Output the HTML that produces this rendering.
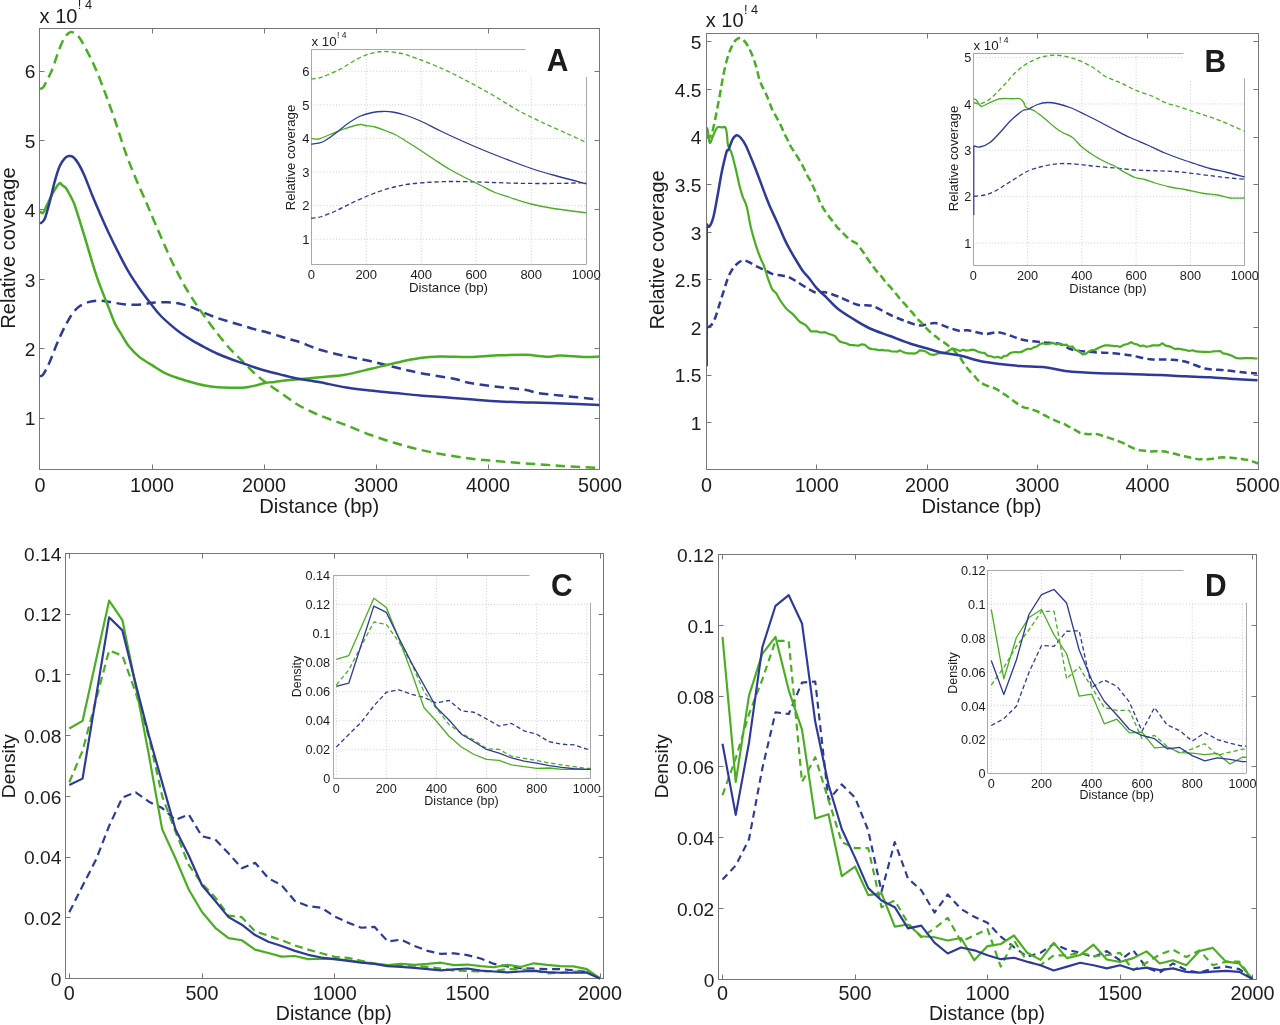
<!DOCTYPE html>
<html lang="en">
<head>
<meta charset="utf-8">
<title>Relative coverage and density versus distance (bp) - panels A, B, C, D</title>
<style>
html,body{margin:0;padding:0;background:#ffffff;}
body{width:1280px;height:1025px;overflow:hidden;font-family:"Liberation Sans",Arial,Helvetica,sans-serif;}
svg{display:block;}
</style>
</head>
<body>
<svg width="1280" height="1025" viewBox="0 0 1280 1025" font-family="'Liberation Sans', Arial, Helvetica, sans-serif" fill="#1c1c1c">
<rect width="1280" height="1025" fill="#ffffff"/>
<g id="plotA">
<rect x="39.5" y="28.5" width="560" height="441" fill="none" stroke="#777777" stroke-width="1"/>
<line x1="152.5" y1="469.5" x2="152.5" y2="464.5" stroke="#777777" stroke-width="1"/>
<line x1="152.5" y1="28.5" x2="152.5" y2="33.5" stroke="#777777" stroke-width="1"/>
<line x1="264.5" y1="469.5" x2="264.5" y2="464.5" stroke="#777777" stroke-width="1"/>
<line x1="264.5" y1="28.5" x2="264.5" y2="33.5" stroke="#777777" stroke-width="1"/>
<line x1="376.5" y1="469.5" x2="376.5" y2="464.5" stroke="#777777" stroke-width="1"/>
<line x1="376.5" y1="28.5" x2="376.5" y2="33.5" stroke="#777777" stroke-width="1"/>
<line x1="488.5" y1="469.5" x2="488.5" y2="464.5" stroke="#777777" stroke-width="1"/>
<line x1="488.5" y1="28.5" x2="488.5" y2="33.5" stroke="#777777" stroke-width="1"/>
<line x1="39.5" y1="418.5" x2="44.5" y2="418.5" stroke="#777777" stroke-width="1"/>
<line x1="599.5" y1="418.5" x2="594.5" y2="418.5" stroke="#777777" stroke-width="1"/>
<line x1="39.5" y1="348.5" x2="44.5" y2="348.5" stroke="#777777" stroke-width="1"/>
<line x1="599.5" y1="348.5" x2="594.5" y2="348.5" stroke="#777777" stroke-width="1"/>
<line x1="39.5" y1="279.5" x2="44.5" y2="279.5" stroke="#777777" stroke-width="1"/>
<line x1="599.5" y1="279.5" x2="594.5" y2="279.5" stroke="#777777" stroke-width="1"/>
<line x1="39.5" y1="209.5" x2="44.5" y2="209.5" stroke="#777777" stroke-width="1"/>
<line x1="599.5" y1="209.5" x2="594.5" y2="209.5" stroke="#777777" stroke-width="1"/>
<line x1="39.5" y1="140.5" x2="44.5" y2="140.5" stroke="#777777" stroke-width="1"/>
<line x1="599.5" y1="140.5" x2="594.5" y2="140.5" stroke="#777777" stroke-width="1"/>
<line x1="39.5" y1="71.5" x2="44.5" y2="71.5" stroke="#777777" stroke-width="1"/>
<line x1="599.5" y1="71.5" x2="594.5" y2="71.5" stroke="#777777" stroke-width="1"/>
<text x="40" y="492.4" font-size="19.8" text-anchor="middle">0</text>
<text x="152" y="492.4" font-size="19.8" text-anchor="middle">1000</text>
<text x="264" y="492.4" font-size="19.8" text-anchor="middle">2000</text>
<text x="376" y="492.4" font-size="19.8" text-anchor="middle">3000</text>
<text x="488" y="492.4" font-size="19.8" text-anchor="middle">4000</text>
<text x="600" y="492.4" font-size="19.8" text-anchor="middle">5000</text>
<text x="35.5" y="425.3" font-size="19.2" text-anchor="end">1</text>
<text x="35.5" y="355.9" font-size="19.2" text-anchor="end">2</text>
<text x="35.5" y="286.5" font-size="19.2" text-anchor="end">3</text>
<text x="35.5" y="217.1" font-size="19.2" text-anchor="end">4</text>
<text x="35.5" y="147.7" font-size="19.2" text-anchor="end">5</text>
<text x="35.5" y="78.3" font-size="19.2" text-anchor="end">6</text>
<text x="319.3" y="512.5" font-size="20.2" text-anchor="middle">Distance (bp)</text>
<text x="14.8" y="248" font-size="20.2" text-anchor="middle" transform="rotate(-90 14.8 248)">Relative coverage</text>
<text x="39.6" y="22.6" font-size="20">x 10<tspan dx="0.4" dy="-13.2" font-size="12.8">! 4</tspan></text>
<clipPath id="cA"><rect x="39.75" y="28.25" width="560" height="441.5"/></clipPath>
<g clip-path="url(#cA)">
<path d="M40 376.52 C40.59 376.09 41.95 376.35 43.56 373.94 C45.18 371.53 47.64 366.63 49.67 362.07 C51.71 357.51 53.75 351.48 55.78 346.58 C57.82 341.67 59.85 336.94 61.89 332.63 C63.93 328.33 65.96 324.29 68 320.76 C70.04 317.23 72.07 313.96 74.11 311.46 C76.15 308.97 77.84 307.33 80.22 305.78 C82.59 304.23 85.65 303.03 88.36 302.17 C91.08 301.31 93.79 300.79 96.51 300.62 C99.22 300.45 101.77 300.79 104.65 301.14 C107.54 301.48 110.59 302.17 113.82 302.68 C117.04 303.2 120.61 303.89 124 304.23 C127.39 304.58 130.79 304.75 134.18 304.75 C137.58 304.75 141.39 304.58 144.36 304.23 C147.33 303.89 148.14 303.01 152 302.68 C155.86 302.35 162.83 302.07 167.5 302.25 C172.17 302.43 175.83 302.88 180 303.75 C184.17 304.62 188.33 305.94 192.5 307.5 C196.67 309.06 200.83 311.33 205 313.1 C209.17 314.87 213.33 316.63 217.5 318.1 C221.67 319.57 225.83 320.65 230 321.9 C234.17 323.15 238.33 324.35 242.5 325.6 C246.67 326.85 250.83 328.25 255 329.4 C259.17 330.55 263.33 331.36 267.5 332.5 C271.67 333.64 276.25 335.1 280 336.25 C283.75 337.4 286.67 338.4 290 339.4 C293.33 340.4 295 340.52 300 342.25 C305 343.98 312.5 347.46 320 349.75 C327.5 352.04 336.67 354.12 345 356 C353.33 357.88 361.67 359.12 370 361 C378.33 362.88 386.67 365.25 395 367.25 C403.33 369.25 410.42 371.12 420 373 C429.58 374.88 444.17 376.83 452.5 378.5 C460.83 380.17 462.92 381.67 470 383 C477.08 384.33 485.83 385.38 495 386.5 C504.17 387.62 517.92 388.67 525 389.75 C532.08 390.83 531.67 392.04 537.5 393 C543.33 393.96 549.75 394.42 560 395.5 C570.25 396.58 592.5 398.83 599 399.5" fill="none" stroke="#2e3a97" stroke-width="2.5" stroke-linejoin="round" stroke-dasharray="9.5 5.5"/>
<path d="M40 88.91 C40.43 88.74 41.76 88.65 42.59 87.87 C43.42 87.1 44.12 85.72 44.97 84.26 C45.81 82.8 46.64 81.16 47.67 79.1 C48.69 77.03 49.99 74.54 51.12 71.87 C52.26 69.2 53.36 66.19 54.47 63.09 C55.59 59.99 56.7 56.38 57.82 53.28 C58.94 50.18 60.05 47.08 61.17 44.5 C62.28 41.92 63.38 39.59 64.52 37.79 C65.65 35.98 66.77 34.6 67.97 33.66 C69.18 32.71 70.09 31.76 71.74 32.11 C73.38 32.45 75.64 33.23 77.85 35.72 C80.05 38.22 82.09 41.75 84.97 47.08 C87.86 52.42 91.76 59.99 95.15 67.74 C98.55 75.48 101.94 84.52 105.34 93.55 C108.73 102.59 112.12 112.06 115.52 121.96 C118.91 131.85 122.31 143.47 125.7 152.94 C129.09 162.4 132.49 170.58 135.88 178.76 C139.28 186.93 143.09 195.11 146.06 201.99 C149.03 208.88 149.71 210.81 153.7 220.07 C157.69 229.32 166.24 249.18 170 257.5 C173.76 265.82 173.54 264.79 176.25 270 C178.96 275.21 182.71 282.71 186.25 288.75 C189.79 294.79 194.38 301.56 197.5 306.25 C200.62 310.94 201.67 312.32 205 316.9 C208.33 321.48 213.33 328.44 217.5 333.75 C221.67 339.06 225.83 344.17 230 348.75 C234.17 353.33 238.33 357.08 242.5 361.25 C246.67 365.42 250.83 370 255 373.75 C259.17 377.5 262.71 380.21 267.5 383.75 C272.29 387.29 278.33 391.29 283.75 395 C289.17 398.71 293.96 402.58 300 406 C306.04 409.42 312.5 412.38 320 415.5 C327.5 418.62 336.67 421.54 345 424.75 C353.33 427.96 361.67 431.71 370 434.75 C378.33 437.79 386.67 440.5 395 443 C403.33 445.5 411.67 447.79 420 449.75 C428.33 451.71 436.67 453.29 445 454.75 C453.33 456.21 461.67 457.46 470 458.5 C478.33 459.54 486.67 460.25 495 461 C503.33 461.75 511.67 462.38 520 463 C528.33 463.62 536.67 464.17 545 464.75 C553.33 465.33 561 465.96 570 466.5 C579 467.04 594.17 467.75 599 468" fill="none" stroke="#4aae22" stroke-width="2.5" stroke-linejoin="round" stroke-dasharray="9.5 5.5"/>
<path d="M40 211.29 C40.51 211.55 41.78 214.13 43.05 212.84 C44.33 211.55 46.02 206.81 47.64 203.54 C49.25 200.27 51.03 196.31 52.73 193.21 C54.42 190.12 56.55 186.67 57.82 184.95 C59.09 183.23 59.68 182.89 60.36 182.89 C61.04 182.89 60.96 184.09 61.89 184.95 C62.82 185.81 64.61 186.33 65.96 188.05 C67.32 189.77 68.68 192.7 70.04 195.28 C71.39 197.86 72.75 200.1 74.11 203.54 C75.47 206.98 76.48 210.6 78.18 215.93 C79.88 221.27 82.25 228.84 84.29 235.56 C86.33 242.27 88.36 249.5 90.4 256.21 C92.44 262.92 94.47 269.81 96.51 275.83 C98.55 281.86 100.58 287.02 102.62 292.36 C104.65 297.69 106.69 302.68 108.73 307.85 C110.76 313.01 112.8 319.04 114.84 323.34 C116.87 327.64 118.57 329.79 120.95 333.67 C123.32 337.54 126.04 342.7 129.09 346.58 C132.15 350.45 135.45 353.8 139.27 356.9 C143.09 360 147.71 362.47 152 365.16 C156.29 367.86 160.33 370.84 165 373.1 C169.67 375.36 175.42 377.18 180 378.75 C184.58 380.32 188.33 381.36 192.5 382.5 C196.67 383.64 200.83 384.81 205 385.6 C209.17 386.39 213.33 386.89 217.5 387.25 C221.67 387.61 225.42 387.71 230 387.75 C234.58 387.79 240.83 387.86 245 387.5 C249.17 387.14 251.67 386.33 255 385.6 C258.33 384.87 261.67 383.72 265 383.1 C268.33 382.48 270.83 382.42 275 381.9 C279.17 381.38 282.5 380.77 290 380 C297.5 379.23 310.83 378.12 320 377.25 C329.17 376.38 336.67 376.12 345 374.75 C353.33 373.38 361.67 370.96 370 369 C378.33 367.04 386.67 364.83 395 363 C403.33 361.17 412.5 359.08 420 358 C427.5 356.92 431.67 356.67 440 356.5 C448.33 356.33 460.83 357.17 470 357 C479.17 356.83 485.83 355.88 495 355.5 C504.17 355.12 516.25 354.54 525 354.75 C533.75 354.96 541.67 356.62 547.5 356.75 C553.33 356.88 553.75 355.46 560 355.5 C566.25 355.54 578.42 356.83 585 357 C591.58 357.17 597.08 356.58 599.5 356.5" fill="none" stroke="#4aae22" stroke-width="2.5" stroke-linejoin="round"/>
<path d="M40 223.68 C40.76 222.91 42.97 222.65 44.58 219.03 C46.19 215.42 47.98 208.27 49.67 201.99 C51.37 195.71 53.07 187.36 54.76 181.34 C56.46 175.31 58.16 169.72 59.85 165.85 C61.55 161.97 63.42 159.74 64.95 158.1 C66.47 156.47 67.66 156.21 69.02 156.04 C70.38 155.86 71.56 155.86 73.09 157.07 C74.62 158.27 76.32 160.25 78.18 163.26 C80.05 166.28 81.92 169.72 84.29 175.14 C86.67 180.56 89.72 189.17 92.44 195.8 C95.15 202.42 97.87 208.71 100.58 214.9 C103.3 221.1 105.67 226.52 108.73 232.97 C111.78 239.43 115.52 247 118.91 253.63 C122.3 260.26 125.7 266.97 129.09 272.73 C132.48 278.5 135.45 282.8 139.27 288.23 C143.09 293.65 148.55 300.8 152 305.27 C155.45 309.73 157 311.81 160 315 C163 318.19 166.67 321.48 170 324.4 C173.33 327.32 176.25 329.8 180 332.5 C183.75 335.2 188.33 338.1 192.5 340.6 C196.67 343.1 200.83 345.31 205 347.5 C209.17 349.69 213.33 351.88 217.5 353.75 C221.67 355.62 225.83 357.19 230 358.75 C234.17 360.31 238.33 361.64 242.5 363.1 C246.67 364.56 250.83 366.14 255 367.5 C259.17 368.86 263.33 370.1 267.5 371.25 C271.67 372.4 276.25 373.46 280 374.4 C283.75 375.34 286.67 376.13 290 376.9 C293.33 377.67 295 378.11 300 379 C305 379.89 312.5 380.88 320 382.25 C327.5 383.62 336.67 385.88 345 387.25 C353.33 388.62 361.67 389.54 370 390.5 C378.33 391.46 386.67 392.17 395 393 C403.33 393.83 411.67 394.79 420 395.5 C428.33 396.21 436.67 396.62 445 397.25 C453.33 397.88 460.83 398.54 470 399.25 C479.17 399.96 489.58 400.96 500 401.5 C510.42 402.04 520.83 402.12 532.5 402.5 C544.17 402.88 558.83 403.33 570 403.75 C581.17 404.17 594.58 404.79 599.5 405" fill="none" stroke="#2e3a97" stroke-width="2.5" stroke-linejoin="round"/>
</g>
<line x1="366.25" y1="49.5" x2="366.25" y2="264.5" stroke="#bdbdbd" stroke-width="0.75" stroke-dasharray="1 2.1"/>
<line x1="421.25" y1="49.5" x2="421.25" y2="264.5" stroke="#bdbdbd" stroke-width="0.75" stroke-dasharray="1 2.1"/>
<line x1="476.25" y1="49.5" x2="476.25" y2="264.5" stroke="#bdbdbd" stroke-width="0.75" stroke-dasharray="1 2.1"/>
<line x1="531.25" y1="49.5" x2="531.25" y2="264.5" stroke="#bdbdbd" stroke-width="0.75" stroke-dasharray="1 2.1"/>
<line x1="311.25" y1="239.25" x2="586.25" y2="239.25" stroke="#bdbdbd" stroke-width="0.75" stroke-dasharray="1 2.1"/>
<line x1="311.25" y1="205.65" x2="586.25" y2="205.65" stroke="#bdbdbd" stroke-width="0.75" stroke-dasharray="1 2.1"/>
<line x1="311.25" y1="172.05" x2="586.25" y2="172.05" stroke="#bdbdbd" stroke-width="0.75" stroke-dasharray="1 2.1"/>
<line x1="311.25" y1="138.45" x2="586.25" y2="138.45" stroke="#bdbdbd" stroke-width="0.75" stroke-dasharray="1 2.1"/>
<line x1="311.25" y1="104.85" x2="586.25" y2="104.85" stroke="#bdbdbd" stroke-width="0.75" stroke-dasharray="1 2.1"/>
<line x1="311.25" y1="71.25" x2="586.25" y2="71.25" stroke="#bdbdbd" stroke-width="0.75" stroke-dasharray="1 2.1"/>
<line x1="311.5" y1="49.5" x2="311.5" y2="264.5" stroke="#a9a9a9" stroke-width="1"/>
<line x1="311.25" y1="264.5" x2="586.25" y2="264.5" stroke="#a9a9a9" stroke-width="1"/>
<line x1="311.25" y1="49.5" x2="586.25" y2="49.5" stroke="#a9a9a9" stroke-width="1"/>
<line x1="586.5" y1="49.5" x2="586.5" y2="264.5" stroke="#a9a9a9" stroke-width="1"/>
<path d="M311.25 218.25 C312.71 218.04 316.04 218.17 320 217 C323.96 215.83 330 213.46 335 211.25 C340 209.04 345 206.12 350 203.75 C355 201.38 360 199.08 365 197 C370 194.92 375 192.96 380 191.25 C385 189.54 390 187.96 395 186.75 C400 185.54 404.17 184.75 410 184 C415.83 183.25 423.33 182.67 430 182.25 C436.67 181.83 443.33 181.58 450 181.5 C456.67 181.42 462.92 181.58 470 181.75 C477.08 181.92 484.58 182.25 492.5 182.5 C500.42 182.75 509.17 183.08 517.5 183.25 C525.83 183.42 534.17 183.5 542.5 183.5 C550.83 183.5 560.21 183.42 567.5 183.25 C574.79 183.08 583.12 182.62 586.25 182.5" fill="none" stroke="#2e3a97" stroke-width="1.3" stroke-linejoin="round" stroke-dasharray="4.4 2.8"/>
<path d="M311.25 79 C312.25 78.92 315.33 78.88 317.25 78.5 C319.17 78.12 320.79 77.46 322.75 76.75 C324.71 76.04 326.62 75.25 329 74.25 C331.38 73.25 334.38 72.04 337 70.75 C339.62 69.46 342.17 68 344.75 66.5 C347.33 65 349.92 63.25 352.5 61.75 C355.08 60.25 357.67 58.75 360.25 57.5 C362.83 56.25 365.38 55.12 368 54.25 C370.62 53.38 373.17 52.71 376 52.25 C378.83 51.79 381 51.33 385 51.5 C389 51.67 394.58 52.04 400 53.25 C405.42 54.46 410.42 56.17 417.5 58.75 C424.58 61.33 434.17 65 442.5 68.75 C450.83 72.5 459.17 76.88 467.5 81.25 C475.83 85.62 484.17 90.21 492.5 95 C500.83 99.79 509.17 105.42 517.5 110 C525.83 114.58 534.17 118.54 542.5 122.5 C550.83 126.46 560.21 130.42 567.5 133.75 C574.79 137.08 583.12 141.04 586.25 142.5" fill="none" stroke="#4aae22" stroke-width="1.3" stroke-linejoin="round" stroke-dasharray="4.4 2.8"/>
<path d="M311.25 138.25 C312.5 138.38 315.62 139.62 318.75 139 C321.88 138.38 326.04 136.08 330 134.5 C333.96 132.92 338.33 131 342.5 129.5 C346.67 128 351.88 126.33 355 125.5 C358.12 124.67 359.58 124.5 361.25 124.5 C362.92 124.5 362.71 125.08 365 125.5 C367.29 125.92 371.67 126.17 375 127 C378.33 127.83 381.67 129.25 385 130.5 C388.33 131.75 391.67 132.83 395 134.5 C398.33 136.17 400.83 137.92 405 140.5 C409.17 143.08 415 146.75 420 150 C425 153.25 430 156.75 435 160 C440 163.25 445 166.58 450 169.5 C455 172.42 460 174.92 465 177.5 C470 180.08 475 182.5 480 185 C485 187.5 490 190.42 495 192.5 C500 194.58 504.17 195.62 510 197.5 C515.83 199.38 522.5 201.88 530 203.75 C537.5 205.62 545.62 207.25 555 208.75 C564.38 210.25 581.04 212.08 586.25 212.75" fill="none" stroke="#4aae22" stroke-width="1.3" stroke-linejoin="round"/>
<path d="M311.25 144.25 C313.12 143.88 318.54 143.75 322.5 142 C326.46 140.25 330.83 136.79 335 133.75 C339.17 130.71 343.33 126.67 347.5 123.75 C351.67 120.83 355.83 118.12 360 116.25 C364.17 114.38 368.75 113.29 372.5 112.5 C376.25 111.71 379.17 111.58 382.5 111.5 C385.83 111.42 388.75 111.42 392.5 112 C396.25 112.58 400.42 113.54 405 115 C409.58 116.46 414.17 118.12 420 120.75 C425.83 123.38 433.33 127.54 440 130.75 C446.67 133.96 453.33 137 460 140 C466.67 143 472.5 145.62 480 148.75 C487.5 151.88 496.67 155.54 505 158.75 C513.33 161.96 521.67 165.21 530 168 C538.33 170.79 545.62 172.88 555 175.5 C564.38 178.12 581.04 182.38 586.25 183.75" fill="none" stroke="#2e3a97" stroke-width="1.3" stroke-linejoin="round"/>
<rect x="525.5" y="40" width="68" height="37" fill="#ffffff"/>
<text transform="translate(546.7 70.6) scale(1 1.07)" font-size="30" font-weight="bold">A</text>
<text x="311.25" y="279.2" font-size="13" text-anchor="middle">0</text>
<text x="366.25" y="279.2" font-size="13" text-anchor="middle">200</text>
<text x="421.25" y="279.2" font-size="13" text-anchor="middle">400</text>
<text x="476.25" y="279.2" font-size="13" text-anchor="middle">600</text>
<text x="531.25" y="279.2" font-size="13" text-anchor="middle">800</text>
<text x="586.25" y="279.2" font-size="13" text-anchor="middle">1000</text>
<text x="309.4" y="244.05" font-size="13" text-anchor="end">1</text>
<text x="309.4" y="210.45" font-size="13" text-anchor="end">2</text>
<text x="309.4" y="176.85" font-size="13" text-anchor="end">3</text>
<text x="309.4" y="143.25" font-size="13" text-anchor="end">4</text>
<text x="309.4" y="109.65" font-size="13" text-anchor="end">5</text>
<text x="309.4" y="76.05" font-size="13" text-anchor="end">6</text>
<text x="448.5" y="292.2" font-size="13.3" text-anchor="middle">Distance (bp)</text>
<text x="295.4" y="157.5" font-size="13.2" text-anchor="middle" transform="rotate(-90 295.4 157.5)">Relative coverage</text>
<text x="311.5" y="46.1" font-size="13.3">x 10<tspan dx="0.27" dy="-7.98" font-size="8.6">! 4</tspan></text>
</g>
<g id="plotB">
<rect x="706.5" y="33.5" width="552" height="436" fill="none" stroke="#777777" stroke-width="1"/>
<line x1="816.5" y1="469.5" x2="816.5" y2="464.5" stroke="#777777" stroke-width="1"/>
<line x1="816.5" y1="33.5" x2="816.5" y2="38.5" stroke="#777777" stroke-width="1"/>
<line x1="927.5" y1="469.5" x2="927.5" y2="464.5" stroke="#777777" stroke-width="1"/>
<line x1="927.5" y1="33.5" x2="927.5" y2="38.5" stroke="#777777" stroke-width="1"/>
<line x1="1037.5" y1="469.5" x2="1037.5" y2="464.5" stroke="#777777" stroke-width="1"/>
<line x1="1037.5" y1="33.5" x2="1037.5" y2="38.5" stroke="#777777" stroke-width="1"/>
<line x1="1147.5" y1="469.5" x2="1147.5" y2="464.5" stroke="#777777" stroke-width="1"/>
<line x1="1147.5" y1="33.5" x2="1147.5" y2="38.5" stroke="#777777" stroke-width="1"/>
<line x1="706.5" y1="422.5" x2="711.5" y2="422.5" stroke="#777777" stroke-width="1"/>
<line x1="1258.5" y1="422.5" x2="1253.5" y2="422.5" stroke="#777777" stroke-width="1"/>
<line x1="706.5" y1="375.5" x2="711.5" y2="375.5" stroke="#777777" stroke-width="1"/>
<line x1="1258.5" y1="375.5" x2="1253.5" y2="375.5" stroke="#777777" stroke-width="1"/>
<line x1="706.5" y1="327.5" x2="711.5" y2="327.5" stroke="#777777" stroke-width="1"/>
<line x1="1258.5" y1="327.5" x2="1253.5" y2="327.5" stroke="#777777" stroke-width="1"/>
<line x1="706.5" y1="279.5" x2="711.5" y2="279.5" stroke="#777777" stroke-width="1"/>
<line x1="1258.5" y1="279.5" x2="1253.5" y2="279.5" stroke="#777777" stroke-width="1"/>
<line x1="706.5" y1="232.5" x2="711.5" y2="232.5" stroke="#777777" stroke-width="1"/>
<line x1="1258.5" y1="232.5" x2="1253.5" y2="232.5" stroke="#777777" stroke-width="1"/>
<line x1="706.5" y1="184.5" x2="711.5" y2="184.5" stroke="#777777" stroke-width="1"/>
<line x1="1258.5" y1="184.5" x2="1253.5" y2="184.5" stroke="#777777" stroke-width="1"/>
<line x1="706.5" y1="137.5" x2="711.5" y2="137.5" stroke="#777777" stroke-width="1"/>
<line x1="1258.5" y1="137.5" x2="1253.5" y2="137.5" stroke="#777777" stroke-width="1"/>
<line x1="706.5" y1="89.5" x2="711.5" y2="89.5" stroke="#777777" stroke-width="1"/>
<line x1="1258.5" y1="89.5" x2="1253.5" y2="89.5" stroke="#777777" stroke-width="1"/>
<line x1="706.5" y1="41.5" x2="711.5" y2="41.5" stroke="#777777" stroke-width="1"/>
<line x1="1258.5" y1="41.5" x2="1253.5" y2="41.5" stroke="#777777" stroke-width="1"/>
<text x="706.5" y="492.4" font-size="19.8" text-anchor="middle">0</text>
<text x="816.75" y="492.4" font-size="19.8" text-anchor="middle">1000</text>
<text x="927" y="492.4" font-size="19.8" text-anchor="middle">2000</text>
<text x="1037.25" y="492.4" font-size="19.8" text-anchor="middle">3000</text>
<text x="1147.5" y="492.4" font-size="19.8" text-anchor="middle">4000</text>
<text x="1257.75" y="492.4" font-size="19.8" text-anchor="middle">5000</text>
<text x="701.5" y="430.05" font-size="19.2" text-anchor="end">1</text>
<text x="701.5" y="382.45" font-size="19.2" text-anchor="end">1.5</text>
<text x="701.5" y="334.85" font-size="19.2" text-anchor="end">2</text>
<text x="701.5" y="287.25" font-size="19.2" text-anchor="end">2.5</text>
<text x="701.5" y="239.65" font-size="19.2" text-anchor="end">3</text>
<text x="701.5" y="192.05" font-size="19.2" text-anchor="end">3.5</text>
<text x="701.5" y="144.45" font-size="19.2" text-anchor="end">4</text>
<text x="701.5" y="96.85" font-size="19.2" text-anchor="end">4.5</text>
<text x="701.5" y="49.25" font-size="19.2" text-anchor="end">5</text>
<text x="981.5" y="512.5" font-size="20.2" text-anchor="middle">Distance (bp)</text>
<text x="664.5" y="249.8" font-size="19.85" text-anchor="middle" transform="rotate(-90 664.5 249.8)">Relative coverage</text>
<text x="705.8" y="27" font-size="20">x 10<tspan dx="0.4" dy="-13.2" font-size="12.8">! 4</tspan></text>
<clipPath id="cB"><rect x="706.9" y="33.25" width="551.35" height="436"/></clipPath>
<g clip-path="url(#cB)">
<path d="M706.7 327.73 C707.39 327.34 709.98 326.7 711.27 325.16 C712.57 323.62 714.11 320.54 715.33 317.46 C716.55 314.38 718.17 308.47 719.39 304.62 C720.61 300.77 722.08 296.02 723.45 291.78 C724.82 287.55 727.01 280 728.53 276.38 C730.05 272.76 732.08 269.73 733.61 267.65 C735.13 265.57 737.16 263.59 738.68 262.52 C740.2 261.44 742.08 260.46 743.76 260.46 C745.43 260.46 748.02 261.67 749.85 262.52 C751.68 263.36 753.81 265.03 755.94 266.11 C758.07 267.19 761.62 268.55 764.06 269.7 C766.5 270.86 769.75 272.97 772.18 273.81 C774.62 274.66 777.87 274.89 780.3 275.35 C782.74 275.82 785.99 275.97 788.43 276.89 C790.86 277.82 794.11 280.05 796.55 281.51 C798.98 282.98 802.54 285.34 804.67 286.65 C806.8 287.96 808.96 289.32 810.76 290.24 C812.56 291.17 814.51 292.51 816.65 292.81 C818.78 293.11 821.5 291.58 825 292.25 C828.5 292.92 835.12 295.38 840 297.25 C844.88 299.12 852.62 303.44 857.5 304.75 C862.38 306.06 867.62 304.5 872.5 306 C877.38 307.5 885.12 312.5 890 314.75 C894.88 317 900.5 319.39 905 321 C909.5 322.61 915.5 325.2 920 325.5 C924.5 325.8 930.88 322.74 935 323 C939.12 323.26 943.75 326.05 947.5 327.25 C951.25 328.45 957 330.55 960 331 C963 331.45 963.75 329.8 967.5 330.25 C971.25 330.7 980.5 333.7 985 334 C989.5 334.3 993.75 332.02 997.5 332.25 C1001.25 332.48 1006.25 334.38 1010 335.5 C1013.75 336.62 1017.62 338.74 1022.5 339.75 C1027.38 340.76 1036.88 341.61 1042.5 342.25 C1048.12 342.89 1055.5 342.88 1060 344 C1064.5 345.12 1067.25 348.51 1072.5 349.75 C1077.75 350.99 1089.38 351.76 1095 352.25 C1100.62 352.74 1104.75 352.55 1110 353 C1115.25 353.45 1124 354.31 1130 355.25 C1136 356.19 1143.62 358.57 1150 359.25 C1156.38 359.93 1166.88 359.3 1172.5 359.75 C1178.12 360.2 1182.62 360.94 1187.5 362.25 C1192.38 363.56 1199.38 367.3 1205 368.5 C1210.62 369.7 1219.38 369.69 1225 370.25 C1230.62 370.81 1237.7 371.76 1242.5 372.25 C1247.3 372.74 1254.83 373.31 1257 373.5" fill="none" stroke="#2e3a97" stroke-width="2.5" stroke-linejoin="round" stroke-dasharray="7.5 4.2"/>
<path d="M706.7 135.17 C707.13 135.6 708.14 138.94 709.24 137.74 C710.34 136.54 711.61 134.74 713.3 127.98 C714.99 121.22 717.7 106.07 719.39 97.17 C721.08 88.27 722.1 81.17 723.45 74.58 C724.81 67.99 726.16 62.26 727.51 57.64 C728.87 53.01 730.22 49.76 731.58 46.85 C732.93 43.94 734.11 41.63 735.64 40.18 C737.16 38.72 739.02 37.7 740.71 38.12 C742.4 38.55 744.1 40.43 745.79 42.74 C747.48 45.06 749.17 48.14 750.86 51.99 C752.56 55.84 754.42 60.97 755.94 65.85 C757.46 70.73 758.31 76.55 760 81.26 C761.69 85.96 764.06 89.39 766.09 94.09 C768.12 98.8 771.17 106.93 772.18 109.5 L779.29 122.33 L781.19 126.38 L783.1 130.43 L785 135.15 L787.08 138.74 L789.17 143.37 L791.25 147.37 L793.44 150.5 L795.62 154.38 L797.81 157.35 L800 161.18 L801.88 164.41 L803.75 168.03 L805.62 171.96 L807.5 175.95 L809.38 178.84 L811.25 182.54 L813.12 186.53 L815 190.45 L816.56 193.83 L818.12 197.4 L819.69 201.73 L821.25 204.55 L823.83 209.36 L826.42 212.79 L829 216.64 L831.83 220.12 L834.67 223.81 L837.5 227.82 L840.62 230.31 L843.75 233.83 L846.88 237.01 L850 239.87 L856.25 243.05 L859.17 246.56 L862.08 250.56 L865 254.71 L867.5 258.85 L870 262.26 L872.5 265.81 L875.62 269.84 L878.75 273.45 L881.88 277.05 L885 281.29 L888 284.7 L891 287.74 L894 291.57 L897 295.03 L900 298.88 L903 302.23 L906 305.29 L909 309.48 L912 312.12 L915 315.92 L918.12 319.69 L921.25 322.53 L924.38 326.3 L927.5 329.29 L930.62 332.42 L933.75 335.01 L936.88 337.32 L940 340.13 L944.17 342.48 L948.33 345.78 L952.5 348.59 L956.25 352.95 L960 357.21 L962.5 361.34 L965 365.19 L967.5 368.47 L970.62 372.1 L973.75 374.94 L976.88 379.01 L980 382.4 L984.38 384.62 L988.75 386.32 L993.12 387.66 L997.5 389.64 L1001.67 392.84 L1005.83 395.11 L1010 398.46 L1013.33 400.67 L1016.67 403.12 L1020 405.56 L1024.38 407.64 L1028.75 408.38 L1033.12 409.87 L1037.5 411.39 L1041.67 414.2 L1045.83 415.75 L1050 418.45 L1055 420.38 L1060 422.55 L1065 424.32 L1068.75 426.61 L1072.5 428.28 L1076.25 430.67 L1080 432.86 L1084.38 433.76 L1088.75 434.21 L1093.12 433.78 L1097.5 434.18 L1101.88 435.54 L1106.25 436.86 L1110.62 438.42 L1115 439.84 L1119 441.36 L1123 442.95 L1127 445.22 L1131 447.02 L1135 449.07 L1140 450.29 L1145 450.86 L1150 451.52 L1155 451.37 L1160 451.18 L1165 451.39 L1170 453.07 L1175 453.78 L1179 454.97 L1183 456 L1187 456.69 L1191 457.8 L1195 458.6 L1199.17 459.38 L1203.33 459.06 L1207.5 459.32 L1212.5 458.71 L1217.5 457.91 L1222.5 457.34 L1226.88 457.43 L1231.25 457.75 L1235.62 458.28 L1240 458.6 L1244.17 459.53 L1248.33 459.86 L1252.5 461.37 L1258 463.5" fill="none" stroke="#4aae22" stroke-width="2.5" stroke-linejoin="round" stroke-dasharray="7.5 4"/>
<path d="M706.7 127.47 C706.87 127.9 707.21 127.47 707.72 130.04 C708.23 132.6 708.82 142.02 709.75 142.87 C710.68 143.73 712.03 137.74 713.3 135.17 C714.57 132.6 715.84 128.75 717.36 127.47 C718.89 126.19 721.08 127.47 722.44 127.47 C723.79 127.47 724.72 126.19 725.48 127.47 C726.25 128.75 726.58 132.18 727.01 135.17 C727.43 138.17 727.26 142.45 728.02 145.44 C728.78 148.44 730.31 149.29 731.58 153.14 C732.84 156.99 734.28 162.99 735.64 168.55 C736.99 174.11 738.51 181.81 739.7 186.52 C740.88 191.23 741.56 193.37 742.74 196.79 C743.93 200.21 745.45 201.92 746.8 207.06 C748.16 212.19 749.34 221.18 750.86 227.6 C752.39 234.02 754.25 240.26 755.94 245.57 C757.63 250.88 759.66 256.01 761.02 259.44 C762.37 262.86 762.88 262.86 764.06 266.11 C765.25 269.36 766.77 275.1 768.12 278.95 C769.48 282.8 770.83 286.82 772.18 289.22 C773.54 291.61 774.89 291.44 776.24 293.32 C777.6 295.21 778.61 297.95 780.3 300.51 C782 303.08 784.37 306.5 786.4 308.73 C788.43 310.95 790.29 311.72 792.49 313.86 C794.69 316 797.39 319.68 799.59 321.57 C801.79 323.45 803.82 323.53 805.68 325.16 C807.55 326.79 809.91 330.3 810.76 331.32 L816.65 331.32 L820.82 332.53 L825 332.15 L828.33 333.7 L831.67 334.76 L835 336.02 L837.5 339.22 L840 341.66 L843.12 342.56 L846.25 343.21 L849.38 344.79 L852.5 345.11 L855.62 345.43 L858.75 345.55 L861.88 344.32 L865 344.86 L867.5 347.21 L870 348.7 L872.5 349.1 L875.62 349.38 L878.75 350.27 L881.88 349.92 L885 350.53 L888 350.23 L891 351.31 L894 351.51 L897 351.71 L900 350.38 L903.75 352.39 L907.5 353.29 L911.25 353.36 L914.06 353.63 L916.88 352.72 L919.69 350.31 L922.5 350.56 L926.25 351.82 L930 354.23 L933 354.88 L936 354.35 L939 352.89 L942 353.13 L945 353.03 L948.75 350.71 L952.5 348.45 L956.25 349.42 L960 350.9 L963 349.64 L966 350.6 L969 350.39 L972 349.63 L975 350.2 L978.12 351.79 L981.25 352.65 L984.38 352.9 L987.5 355.62 L990.94 356.21 L994.38 357.47 L997.81 356.85 L1001.25 358.08 L1004.17 356 L1007.08 355.67 L1010 353.09 L1013 352.23 L1016 352.16 L1019 352.44 L1022 351.67 L1025 350.07 L1027.92 348.79 L1030.83 349.09 L1033.75 347.38 L1036.67 346.53 L1039.58 344.34 L1042.5 343.2 L1046 344.24 L1049.5 343.67 L1053 342.93 L1056.5 344.39 L1060 343.74 L1063.12 344.98 L1066.25 344.63 L1069.38 346.95 L1072.5 346.47 L1075 349.65 L1077.5 350.67 L1080 352.21 L1082.5 354.35 L1085.62 353.89 L1088.75 351.58 L1091.88 350.21 L1095 349.8 L1098.33 348.03 L1101.67 346.55 L1105 345.39 L1108 345.29 L1111 345.66 L1114 345.96 L1117 346.05 L1120 346.97 L1123.75 344.87 L1127.5 344 L1131.25 342.17 L1134.17 343.72 L1137.08 344.38 L1140 346.05 L1143.12 345.5 L1146.25 346.67 L1149.38 346.22 L1152.5 345.44 L1155.83 345.29 L1159.17 345.45 L1162.5 343.29 L1165.62 345.7 L1168.75 346.13 L1171.88 347.37 L1175 349.1 L1178.5 348.71 L1182 349.31 L1185.5 350.04 L1189 350.97 L1192.5 350.22 L1196 351.45 L1199.5 351.57 L1203 351.79 L1206.5 351.73 L1210 351.98 L1213.33 351.28 L1216.67 351.25 L1220 350.98 L1223.12 353.43 L1226.25 353.81 L1229.38 354.89 L1232.5 356 L1235.62 357.8 L1238.75 358.29 L1241.88 358.37 L1245 358.11 L1248.12 358.04 L1251.25 358.13 L1254.38 358.43 L1257.5 358.5" fill="none" stroke="#4aae22" stroke-width="2.2" stroke-linejoin="round"/>
<path d="M706.7 366.24 L706.7 224 M706.7 224 C707.13 224.43 708.14 227.68 709.24 226.57 C710.34 225.46 711.95 222.29 713.3 217.33 C714.66 212.37 716.01 204.06 717.36 196.79 C718.72 189.52 720.07 180.53 721.42 173.68 C722.78 166.84 724.55 159.56 725.48 155.71 C726.41 151.86 726.5 151.6 727.01 150.58 C727.51 149.55 727.6 151.43 728.53 149.55 C729.46 147.67 731.24 141.68 732.59 139.28 C733.94 136.88 735.3 135.43 736.65 135.17 C738 134.92 739.19 136.03 740.71 137.74 C742.23 139.45 743.93 141.76 745.79 145.44 C747.65 149.12 749.85 154.86 751.88 159.82 C753.91 164.78 755.94 169.92 757.97 175.22 C760 180.53 762.03 186.35 764.06 191.66 C766.09 196.96 767.95 201.92 770.15 207.06 C772.35 212.19 774.89 217.16 777.26 222.46 C779.63 227.77 782.17 234.19 784.37 238.9 C786.56 243.6 788.43 247.03 790.46 250.71 C792.49 254.39 794.52 257.64 796.55 260.98 C798.58 264.31 800.44 267.74 802.64 270.73 C804.84 273.73 807.41 276.04 809.75 278.95 C812.08 281.86 814.11 285.35 816.65 288.19 C819.19 291.03 821.52 292.62 825 296 C828.48 299.38 832.92 304.75 837.5 308.5 C842.08 312.25 847.08 315.17 852.5 318.5 C857.92 321.83 863.75 325.58 870 328.5 C876.25 331.42 883.33 333.5 890 336 C896.67 338.5 903.75 341.42 910 343.5 C916.25 345.58 922.5 347.04 927.5 348.5 C932.5 349.96 934.58 351.08 940 352.25 C945.42 353.42 953.33 354.04 960 355.5 C966.67 356.96 973.33 359.58 980 361 C986.67 362.42 993.33 363.17 1000 364 C1006.67 364.83 1012.5 365.46 1020 366 C1027.5 366.54 1037.5 366.42 1045 367.25 C1052.5 368.08 1058.33 370.12 1065 371 C1071.67 371.88 1077.5 372.08 1085 372.5 C1092.5 372.92 1101.67 373.21 1110 373.5 C1118.33 373.79 1126.67 374 1135 374.25 C1143.33 374.5 1151.67 374.67 1160 375 C1168.33 375.33 1176.67 375.88 1185 376.25 C1193.33 376.62 1201.67 376.79 1210 377.25 C1218.33 377.71 1227.08 378.5 1235 379 C1242.92 379.5 1253.75 380.04 1257.5 380.25" fill="none" stroke="#2e3a97" stroke-width="2.5" stroke-linejoin="round"/>
</g>
<line x1="1027.55" y1="53" x2="1027.55" y2="265.5" stroke="#bdbdbd" stroke-width="0.75" stroke-dasharray="1 2.1"/>
<line x1="1081.85" y1="53" x2="1081.85" y2="265.5" stroke="#bdbdbd" stroke-width="0.75" stroke-dasharray="1 2.1"/>
<line x1="1136.15" y1="53" x2="1136.15" y2="265.5" stroke="#bdbdbd" stroke-width="0.75" stroke-dasharray="1 2.1"/>
<line x1="1190.45" y1="53" x2="1190.45" y2="265.5" stroke="#bdbdbd" stroke-width="0.75" stroke-dasharray="1 2.1"/>
<line x1="973.25" y1="243" x2="1244.5" y2="243" stroke="#bdbdbd" stroke-width="0.75" stroke-dasharray="1 2.1"/>
<line x1="973.25" y1="196.65" x2="1244.5" y2="196.65" stroke="#bdbdbd" stroke-width="0.75" stroke-dasharray="1 2.1"/>
<line x1="973.25" y1="150.3" x2="1244.5" y2="150.3" stroke="#bdbdbd" stroke-width="0.75" stroke-dasharray="1 2.1"/>
<line x1="973.25" y1="103.95" x2="1244.5" y2="103.95" stroke="#bdbdbd" stroke-width="0.75" stroke-dasharray="1 2.1"/>
<line x1="973.25" y1="57.6" x2="1244.5" y2="57.6" stroke="#bdbdbd" stroke-width="0.75" stroke-dasharray="1 2.1"/>
<line x1="973.5" y1="53" x2="973.5" y2="265.5" stroke="#a9a9a9" stroke-width="1"/>
<line x1="973.25" y1="265.5" x2="1244.5" y2="265.5" stroke="#a9a9a9" stroke-width="1"/>
<line x1="973.25" y1="53.5" x2="1244.5" y2="53.5" stroke="#a9a9a9" stroke-width="1"/>
<line x1="1244.5" y1="53" x2="1244.5" y2="265.5" stroke="#a9a9a9" stroke-width="1"/>
<clipPath id="cBi"><rect x="973.15" y="53" width="272.25" height="212.5"/></clipPath>
<g clip-path="url(#cBi)">
<path d="M973.75 196.25 C975.62 196.04 981.46 195.83 985 195 C988.54 194.17 991.67 192.92 995 191.25 C998.33 189.58 1001.67 187.08 1005 185 C1008.33 182.92 1011.25 181.04 1015 178.75 C1018.75 176.46 1023.33 173.21 1027.5 171.25 C1031.67 169.29 1035.83 168.12 1040 167 C1044.17 165.88 1048.33 165.08 1052.5 164.5 C1056.67 163.92 1060.42 163.5 1065 163.5 C1069.58 163.5 1075 164.04 1080 164.5 C1085 164.96 1089.17 165.67 1095 166.25 C1100.83 166.83 1108.33 167.38 1115 168 C1121.67 168.62 1128.33 169.54 1135 170 C1141.67 170.46 1148.33 170.5 1155 170.75 C1161.67 171 1168.33 171 1175 171.5 C1181.67 172 1188.33 172.96 1195 173.75 C1201.67 174.54 1209.17 175.54 1215 176.25 C1220.83 176.96 1225.08 177.5 1230 178 C1234.92 178.5 1242.08 179.04 1244.5 179.25" fill="none" stroke="#2e3a97" stroke-width="1.3" stroke-linejoin="round" stroke-dasharray="4.4 2.8"/>
<path d="M973.75 102.5 C974.79 102.71 977.29 104.33 980 103.75 C982.71 103.17 985.83 102.29 990 99 C994.17 95.71 1000.83 88.33 1005 84 C1009.17 79.67 1011.67 76.21 1015 73 C1018.33 69.79 1021.67 67 1025 64.75 C1028.33 62.5 1031.67 60.92 1035 59.5 C1038.33 58.08 1041.25 56.96 1045 56.25 C1048.75 55.54 1053.33 55.04 1057.5 55.25 C1061.67 55.46 1065.83 56.38 1070 57.5 C1074.17 58.62 1078.33 60.12 1082.5 62 C1086.67 63.88 1091.25 66.38 1095 68.75 C1098.75 71.12 1100.83 73.96 1105 76.25 C1109.17 78.54 1115 80.21 1120 82.5 C1125 84.79 1129.58 87.71 1135 90 C1140.42 92.29 1147.5 94.17 1152.5 96.25 C1157.5 98.33 1160.83 100.83 1165 102.5 C1169.17 104.17 1173.33 104.92 1177.5 106.25 C1181.67 107.58 1185.83 109.12 1190 110.5 C1194.17 111.88 1198.33 113.12 1202.5 114.5 C1206.67 115.88 1210.83 117.21 1215 118.75 C1219.17 120.29 1222.58 121.67 1227.5 123.75 C1232.42 125.83 1241.67 130 1244.5 131.25" fill="none" stroke="#4aae22" stroke-width="1.3" stroke-linejoin="round" stroke-dasharray="4.4 2.8"/>
<path d="M973.75 98.75 C974.17 98.96 975 98.75 976.25 100 C977.5 101.25 978.96 105.83 981.25 106.25 C983.54 106.67 986.88 103.75 990 102.5 C993.12 101.25 996.25 99.38 1000 98.75 C1003.75 98.12 1009.17 98.75 1012.5 98.75 C1015.83 98.75 1018.12 98.12 1020 98.75 C1021.88 99.38 1022.71 101.04 1023.75 102.5 C1024.79 103.96 1024.38 106.04 1026.25 107.5 C1028.12 108.96 1031.88 109.38 1035 111.25 C1038.12 113.12 1041.67 116.04 1045 118.75 C1048.33 121.46 1052.08 125.21 1055 127.5 C1057.92 129.79 1059.58 130.83 1062.5 132.5 C1065.42 134.17 1069.17 135 1072.5 137.5 C1075.83 140 1078.75 144.38 1082.5 147.5 C1086.25 150.62 1090.83 153.67 1095 156.25 C1099.17 158.83 1104.17 161.33 1107.5 163 C1110.83 164.67 1112.08 164.67 1115 166.25 C1117.92 167.83 1121.67 170.62 1125 172.5 C1128.33 174.38 1131.67 176.33 1135 177.5 C1138.33 178.67 1141.67 178.58 1145 179.5 C1148.33 180.42 1150.83 181.75 1155 183 C1159.17 184.25 1165 185.92 1170 187 C1175 188.08 1179.58 188.46 1185 189.5 C1190.42 190.54 1197.08 192.33 1202.5 193.25 C1207.92 194.17 1212.92 194.21 1217.5 195 C1222.08 195.79 1225.5 197.5 1230 198 C1234.5 198.5 1242.08 198 1244.5 198" fill="none" stroke="#4aae22" stroke-width="1.3" stroke-linejoin="round"/>
<path d="M973.75 215 L973.75 145.75 M973.75 145.75 C974.79 145.96 977.29 147.54 980 147 C982.71 146.46 986.67 144.92 990 142.5 C993.33 140.08 996.67 136.04 1000 132.5 C1003.33 128.96 1006.67 124.58 1010 121.25 C1013.33 117.92 1017.71 114.38 1020 112.5 C1022.29 110.62 1022.5 110.5 1023.75 110 C1025 109.5 1025.21 110.42 1027.5 109.5 C1029.79 108.58 1034.17 105.67 1037.5 104.5 C1040.83 103.33 1044.17 102.62 1047.5 102.5 C1050.83 102.38 1053.75 102.92 1057.5 103.75 C1061.25 104.58 1065.42 105.71 1070 107.5 C1074.58 109.29 1080 112.08 1085 114.5 C1090 116.92 1095 119.42 1100 122 C1105 124.58 1110 127.42 1115 130 C1120 132.58 1124.58 135 1130 137.5 C1135.42 140 1141.67 142.42 1147.5 145 C1153.33 147.58 1159.58 150.71 1165 153 C1170.42 155.29 1175 156.96 1180 158.75 C1185 160.54 1190 162.12 1195 163.75 C1200 165.38 1204.58 167.04 1210 168.5 C1215.42 169.96 1221.75 171.08 1227.5 172.5 C1233.25 173.92 1241.67 176.25 1244.5 177" fill="none" stroke="#2e3a97" stroke-width="1.3" stroke-linejoin="round"/>
</g>
<rect x="1183.5" y="42" width="68" height="36.5" fill="#ffffff"/>
<text transform="translate(1204.5 71.9) scale(1 1.07)" font-size="30" font-weight="bold">B</text>
<text x="973.25" y="280.4" font-size="12.7" text-anchor="middle">0</text>
<text x="1027.55" y="280.4" font-size="12.7" text-anchor="middle">200</text>
<text x="1081.85" y="280.4" font-size="12.7" text-anchor="middle">400</text>
<text x="1136.15" y="280.4" font-size="12.7" text-anchor="middle">600</text>
<text x="1190.45" y="280.4" font-size="12.7" text-anchor="middle">800</text>
<text x="1244.75" y="280.4" font-size="12.7" text-anchor="middle">1000</text>
<text x="971.2" y="247.8" font-size="12.7" text-anchor="end">1</text>
<text x="971.2" y="201.45" font-size="12.7" text-anchor="end">2</text>
<text x="971.2" y="155.1" font-size="12.7" text-anchor="end">3</text>
<text x="971.2" y="108.75" font-size="12.7" text-anchor="end">4</text>
<text x="971.2" y="62.4" font-size="12.7" text-anchor="end">5</text>
<text x="1108" y="293.2" font-size="13" text-anchor="middle">Distance (bp)</text>
<text x="958.4" y="158.5" font-size="13.2" text-anchor="middle" transform="rotate(-90 958.4 158.5)">Relative coverage</text>
<text x="973.5" y="50.3" font-size="13.3">x 10<tspan dx="0.27" dy="-7.71" font-size="8.6">! 4</tspan></text>
</g>
<g id="plotC">
<rect x="65.5" y="553.5" width="538" height="425" fill="none" stroke="#777777" stroke-width="1"/>
<line x1="69.5" y1="978.5" x2="69.5" y2="973.5" stroke="#777777" stroke-width="1"/>
<line x1="69.5" y1="553.5" x2="69.5" y2="558.5" stroke="#777777" stroke-width="1"/>
<line x1="202.5" y1="978.5" x2="202.5" y2="973.5" stroke="#777777" stroke-width="1"/>
<line x1="202.5" y1="553.5" x2="202.5" y2="558.5" stroke="#777777" stroke-width="1"/>
<line x1="334.5" y1="978.5" x2="334.5" y2="973.5" stroke="#777777" stroke-width="1"/>
<line x1="334.5" y1="553.5" x2="334.5" y2="558.5" stroke="#777777" stroke-width="1"/>
<line x1="467.5" y1="978.5" x2="467.5" y2="973.5" stroke="#777777" stroke-width="1"/>
<line x1="467.5" y1="553.5" x2="467.5" y2="558.5" stroke="#777777" stroke-width="1"/>
<line x1="600.5" y1="978.5" x2="600.5" y2="973.5" stroke="#777777" stroke-width="1"/>
<line x1="600.5" y1="553.5" x2="600.5" y2="558.5" stroke="#777777" stroke-width="1"/>
<line x1="65.5" y1="917.5" x2="70.5" y2="917.5" stroke="#777777" stroke-width="1"/>
<line x1="603.5" y1="917.5" x2="598.5" y2="917.5" stroke="#777777" stroke-width="1"/>
<line x1="65.5" y1="857.5" x2="70.5" y2="857.5" stroke="#777777" stroke-width="1"/>
<line x1="603.5" y1="857.5" x2="598.5" y2="857.5" stroke="#777777" stroke-width="1"/>
<line x1="65.5" y1="796.5" x2="70.5" y2="796.5" stroke="#777777" stroke-width="1"/>
<line x1="603.5" y1="796.5" x2="598.5" y2="796.5" stroke="#777777" stroke-width="1"/>
<line x1="65.5" y1="735.5" x2="70.5" y2="735.5" stroke="#777777" stroke-width="1"/>
<line x1="603.5" y1="735.5" x2="598.5" y2="735.5" stroke="#777777" stroke-width="1"/>
<line x1="65.5" y1="674.5" x2="70.5" y2="674.5" stroke="#777777" stroke-width="1"/>
<line x1="603.5" y1="674.5" x2="598.5" y2="674.5" stroke="#777777" stroke-width="1"/>
<line x1="65.5" y1="614.5" x2="70.5" y2="614.5" stroke="#777777" stroke-width="1"/>
<line x1="603.5" y1="614.5" x2="598.5" y2="614.5" stroke="#777777" stroke-width="1"/>
<text x="69.3" y="999.8" font-size="19.8" text-anchor="middle">0</text>
<text x="202" y="999.8" font-size="19.8" text-anchor="middle">500</text>
<text x="334.7" y="999.8" font-size="19.8" text-anchor="middle">1000</text>
<text x="467.4" y="999.8" font-size="19.8" text-anchor="middle">1500</text>
<text x="600.1" y="999.8" font-size="19.8" text-anchor="middle">2000</text>
<text x="61.4" y="985.9" font-size="19.2" text-anchor="end">0</text>
<text x="61.4" y="925.15" font-size="19.2" text-anchor="end">0.02</text>
<text x="61.4" y="864.4" font-size="19.2" text-anchor="end">0.04</text>
<text x="61.4" y="803.65" font-size="19.2" text-anchor="end">0.06</text>
<text x="61.4" y="742.9" font-size="19.2" text-anchor="end">0.08</text>
<text x="61.4" y="682.15" font-size="19.2" text-anchor="end">0.1</text>
<text x="61.4" y="621.4" font-size="19.2" text-anchor="end">0.12</text>
<text x="61.4" y="560.65" font-size="19.2" text-anchor="end">0.14</text>
<text x="333.8" y="1020.3" font-size="19.5" text-anchor="middle">Distance (bp)</text>
<text x="14.6" y="766.2" font-size="19.2" text-anchor="middle" transform="rotate(-90 14.6 766.2)">Density</text>
<path d="M69.3 912.28 L82.57 885.86 L95.84 860.04 L109.11 826.02 L122.38 797.47 L135.65 792.3 L148.92 801.72 L162.19 808.1 L175.46 819.94 L188.73 814.48 L202 836.35 L215.27 839.38 L228.54 853.36 L241.81 868.24 L255.08 862.77 L268.35 878.26 L281.62 885.25 L294.89 901.04 L308.16 906.21 L321.43 907.73 L334.7 916.53 L347.97 922.61 L361.24 927.77 L374.51 926.86 L387.78 941.44 L401.05 939.62 L414.32 946 L427.59 950.86 L440.86 953.9 L454.13 953.29 L467.4 955.11 L480.67 958.45 L493.94 963.92 L507.21 966.35 L520.48 968.17 L533.75 968.48 L547.02 969.08 L560.29 969.08 L573.56 970.3 L586.83 972.12 L600.1 978.5" fill="none" stroke="#2e3a97" stroke-width="2.2" stroke-linejoin="round" stroke-dasharray="8 4.8"/>
<path d="M69.3 782.28 L82.57 750.69 L95.84 700.57 L109.11 650.45 L122.38 655.61 L135.65 692.37 L148.92 737.02 L162.19 796.25 L175.46 831.49 L188.73 864.9 L202 883.73 L215.27 897.4 L228.54 915.62 L241.81 917.14 L255.08 931.42 L268.35 935.67 L281.62 940.23 L294.89 945.39 L308.16 949.64 L321.43 953.29 L334.7 956.93 L347.97 957.85 L361.24 960.88 L374.51 963.62 L387.78 965.74 L401.05 964.83 L414.32 965.74 L427.59 966.96 L440.86 968.48 L454.13 970.6 L467.4 970.91 L480.67 971.51 L493.94 970.91 L507.21 969.08 L520.48 969.39 L533.75 970 L547.02 973.34 L560.29 972.73 L573.56 971.51 L586.83 971.51 L600.1 978.5" fill="none" stroke="#4aae22" stroke-width="2.2" stroke-linejoin="round" stroke-dasharray="8 4.8"/>
<path d="M69.3 728.51 L82.57 720.92 L95.84 661.08 L109.11 600.63 L122.38 620.08 L135.65 685.38 L148.92 755.24 L162.19 829.36 L175.46 858.22 L188.73 889.5 L202 911.98 L215.27 927.77 L228.54 938.1 L241.81 940.23 L255.08 949.64 L268.35 952.99 L281.62 956.63 L294.89 956.02 L308.16 959.06 L321.43 958.76 L334.7 959.06 L347.97 960.27 L361.24 962.1 L374.51 963.62 L387.78 965.13 L401.05 963.92 L414.32 964.83 L427.59 963.92 L440.86 962.71 L454.13 965.13 L467.4 964.53 L480.67 966.05 L493.94 967.26 L507.21 964.83 L520.48 966.96 L533.75 963.31 L547.02 964.83 L560.29 966.05 L573.56 966.35 L586.83 969.08 L600.1 978.5" fill="none" stroke="#4aae22" stroke-width="2.2" stroke-linejoin="round"/>
<path d="M69.3 785.01 L82.57 778.63 L95.84 698.14 L109.11 617.34 L122.38 630.4 L135.65 683.86 L148.92 735.5 L162.19 782.58 L175.46 829.36 L188.73 855.48 L202 885.25 L215.27 901.04 L228.54 917.14 L241.81 924.74 L255.08 935.06 L268.35 941.75 L281.62 946 L294.89 950.86 L308.16 954.81 L321.43 957.54 L334.7 959.06 L347.97 960.88 L361.24 962.71 L374.51 963.92 L387.78 966.05 L401.05 966.96 L414.32 967.87 L427.59 969.08 L440.86 970.3 L454.13 969.39 L467.4 968.48 L480.67 970.6 L493.94 971.51 L507.21 972.42 L520.48 971.51 L533.75 970.91 L547.02 972.12 L560.29 972.73 L573.56 972.73 L586.83 972.73 L600.1 978.5" fill="none" stroke="#2e3a97" stroke-width="2.2" stroke-linejoin="round"/>
<line x1="336.25" y1="575.5" x2="336.25" y2="778.75" stroke="#bdbdbd" stroke-width="0.75" stroke-dasharray="1 2.1"/>
<line x1="386.35" y1="575.5" x2="386.35" y2="778.75" stroke="#bdbdbd" stroke-width="0.75" stroke-dasharray="1 2.1"/>
<line x1="436.45" y1="575.5" x2="436.45" y2="778.75" stroke="#bdbdbd" stroke-width="0.75" stroke-dasharray="1 2.1"/>
<line x1="486.55" y1="575.5" x2="486.55" y2="778.75" stroke="#bdbdbd" stroke-width="0.75" stroke-dasharray="1 2.1"/>
<line x1="536.65" y1="575.5" x2="536.65" y2="778.75" stroke="#bdbdbd" stroke-width="0.75" stroke-dasharray="1 2.1"/>
<line x1="586.75" y1="575.5" x2="586.75" y2="778.75" stroke="#bdbdbd" stroke-width="0.75" stroke-dasharray="1 2.1"/>
<line x1="333" y1="749.72" x2="590.75" y2="749.72" stroke="#bdbdbd" stroke-width="0.75" stroke-dasharray="1 2.1"/>
<line x1="333" y1="720.69" x2="590.75" y2="720.69" stroke="#bdbdbd" stroke-width="0.75" stroke-dasharray="1 2.1"/>
<line x1="333" y1="691.65" x2="590.75" y2="691.65" stroke="#bdbdbd" stroke-width="0.75" stroke-dasharray="1 2.1"/>
<line x1="333" y1="662.62" x2="590.75" y2="662.62" stroke="#bdbdbd" stroke-width="0.75" stroke-dasharray="1 2.1"/>
<line x1="333" y1="633.59" x2="590.75" y2="633.59" stroke="#bdbdbd" stroke-width="0.75" stroke-dasharray="1 2.1"/>
<line x1="333" y1="604.56" x2="590.75" y2="604.56" stroke="#bdbdbd" stroke-width="0.75" stroke-dasharray="1 2.1"/>
<line x1="333.5" y1="575.5" x2="333.5" y2="778.75" stroke="#a9a9a9" stroke-width="1"/>
<line x1="333" y1="778.5" x2="590.75" y2="778.5" stroke="#a9a9a9" stroke-width="1"/>
<line x1="333" y1="575.5" x2="590.75" y2="575.5" stroke="#a9a9a9" stroke-width="1"/>
<line x1="590.5" y1="575.5" x2="590.5" y2="778.75" stroke="#a9a9a9" stroke-width="1"/>
<path d="M336.25 747.11 L348.77 734.48 L361.3 722.14 L373.82 705.88 L386.35 692.23 L398.88 689.77 L411.4 694.27 L423.93 697.32 L436.45 702.98 L448.98 700.36 L461.5 710.82 L474.02 712.27 L486.55 718.94 L499.07 726.06 L511.6 723.44 L524.12 730.85 L536.65 734.19 L549.17 741.73 L561.7 744.2 L574.23 744.93 L586.75 749.14 L590.75 749.14" fill="none" stroke="#2e3a97" stroke-width="1.3" stroke-linejoin="round" stroke-dasharray="4.4 2.8"/>
<path d="M336.25 684.98 L348.77 669.88 L361.3 645.93 L373.82 621.98 L386.35 624.44 L398.88 642.01 L411.4 663.35 L423.93 691.65 L436.45 708.49 L448.98 724.46 L461.5 733.46 L474.02 739.99 L486.55 748.7 L499.07 749.43 L511.6 756.25 L524.12 758.28 L536.65 760.46 L549.17 762.93 L561.7 764.96 L574.23 766.7 L586.75 768.44 L590.75 768.44" fill="none" stroke="#4aae22" stroke-width="1.3" stroke-linejoin="round" stroke-dasharray="4.4 2.8"/>
<path d="M336.25 659.28 L348.77 655.65 L361.3 627.06 L373.82 598.17 L386.35 607.46 L398.88 638.67 L411.4 672.06 L423.93 707.48 L436.45 721.27 L448.98 736.22 L461.5 746.96 L474.02 754.51 L486.55 759.44 L499.07 760.46 L511.6 764.96 L524.12 766.56 L536.65 768.3 L549.17 768.01 L561.7 769.46 L574.23 769.31 L586.75 769.46 L590.75 769.46" fill="none" stroke="#4aae22" stroke-width="1.3" stroke-linejoin="round"/>
<path d="M336.25 686.28 L348.77 683.23 L361.3 644.77 L373.82 606.15 L386.35 612.4 L398.88 637.94 L411.4 662.62 L423.93 685.12 L436.45 707.48 L448.98 719.96 L461.5 734.19 L474.02 741.73 L486.55 749.43 L499.07 753.06 L511.6 757.99 L524.12 761.19 L536.65 763.22 L549.17 765.54 L561.7 767.43 L574.23 768.73 L586.75 769.46 L590.75 769.46" fill="none" stroke="#2e3a97" stroke-width="1.3" stroke-linejoin="round"/>
<rect x="529.5" y="566" width="68" height="36.8" fill="#ffffff"/>
<text transform="translate(550.9 595.7) scale(1 1.07)" font-size="30" font-weight="bold">C</text>
<text x="336.25" y="792.8" font-size="12.6" text-anchor="middle">0</text>
<text x="386.35" y="792.8" font-size="12.6" text-anchor="middle">200</text>
<text x="436.45" y="792.8" font-size="12.6" text-anchor="middle">400</text>
<text x="486.55" y="792.8" font-size="12.6" text-anchor="middle">600</text>
<text x="536.65" y="792.8" font-size="12.6" text-anchor="middle">800</text>
<text x="586.75" y="792.8" font-size="12.6" text-anchor="middle">1000</text>
<text x="330.2" y="783.15" font-size="12.7" text-anchor="end">0</text>
<text x="330.2" y="754.12" font-size="12.7" text-anchor="end">0.02</text>
<text x="330.2" y="725.09" font-size="12.7" text-anchor="end">0.04</text>
<text x="330.2" y="696.05" font-size="12.7" text-anchor="end">0.06</text>
<text x="330.2" y="667.02" font-size="12.7" text-anchor="end">0.08</text>
<text x="330.2" y="637.99" font-size="12.7" text-anchor="end">0.1</text>
<text x="330.2" y="608.96" font-size="12.7" text-anchor="end">0.12</text>
<text x="330.2" y="579.93" font-size="12.7" text-anchor="end">0.14</text>
<text x="461.5" y="804.5" font-size="12.5" text-anchor="middle">Distance (bp)</text>
<text x="300.6" y="676.5" font-size="12.4" text-anchor="middle" transform="rotate(-90 300.6 676.5)">Density</text>
</g>
<g id="plotD">
<rect x="718.5" y="554.5" width="538" height="425" fill="none" stroke="#777777" stroke-width="1"/>
<line x1="722.5" y1="979.5" x2="722.5" y2="974.5" stroke="#777777" stroke-width="1"/>
<line x1="722.5" y1="554.5" x2="722.5" y2="559.5" stroke="#777777" stroke-width="1"/>
<line x1="855.5" y1="979.5" x2="855.5" y2="974.5" stroke="#777777" stroke-width="1"/>
<line x1="855.5" y1="554.5" x2="855.5" y2="559.5" stroke="#777777" stroke-width="1"/>
<line x1="987.5" y1="979.5" x2="987.5" y2="974.5" stroke="#777777" stroke-width="1"/>
<line x1="987.5" y1="554.5" x2="987.5" y2="559.5" stroke="#777777" stroke-width="1"/>
<line x1="1120.5" y1="979.5" x2="1120.5" y2="974.5" stroke="#777777" stroke-width="1"/>
<line x1="1120.5" y1="554.5" x2="1120.5" y2="559.5" stroke="#777777" stroke-width="1"/>
<line x1="1252.5" y1="979.5" x2="1252.5" y2="974.5" stroke="#777777" stroke-width="1"/>
<line x1="1252.5" y1="554.5" x2="1252.5" y2="559.5" stroke="#777777" stroke-width="1"/>
<line x1="718.5" y1="908.5" x2="723.5" y2="908.5" stroke="#777777" stroke-width="1"/>
<line x1="1256.5" y1="908.5" x2="1251.5" y2="908.5" stroke="#777777" stroke-width="1"/>
<line x1="718.5" y1="837.5" x2="723.5" y2="837.5" stroke="#777777" stroke-width="1"/>
<line x1="1256.5" y1="837.5" x2="1251.5" y2="837.5" stroke="#777777" stroke-width="1"/>
<line x1="718.5" y1="766.5" x2="723.5" y2="766.5" stroke="#777777" stroke-width="1"/>
<line x1="1256.5" y1="766.5" x2="1251.5" y2="766.5" stroke="#777777" stroke-width="1"/>
<line x1="718.5" y1="696.5" x2="723.5" y2="696.5" stroke="#777777" stroke-width="1"/>
<line x1="1256.5" y1="696.5" x2="1251.5" y2="696.5" stroke="#777777" stroke-width="1"/>
<line x1="718.5" y1="625.5" x2="723.5" y2="625.5" stroke="#777777" stroke-width="1"/>
<line x1="1256.5" y1="625.5" x2="1251.5" y2="625.5" stroke="#777777" stroke-width="1"/>
<text x="722.5" y="999.8" font-size="19.8" text-anchor="middle">0</text>
<text x="855" y="999.8" font-size="19.8" text-anchor="middle">500</text>
<text x="987.5" y="999.8" font-size="19.8" text-anchor="middle">1000</text>
<text x="1120" y="999.8" font-size="19.8" text-anchor="middle">1500</text>
<text x="1252.5" y="999.8" font-size="19.8" text-anchor="middle">2000</text>
<text x="714.3" y="986.5" font-size="19.2" text-anchor="end">0</text>
<text x="714.3" y="915.75" font-size="19.2" text-anchor="end">0.02</text>
<text x="714.3" y="845" font-size="19.2" text-anchor="end">0.04</text>
<text x="714.3" y="774.25" font-size="19.2" text-anchor="end">0.06</text>
<text x="714.3" y="703.5" font-size="19.2" text-anchor="end">0.08</text>
<text x="714.3" y="632.75" font-size="19.2" text-anchor="end">0.1</text>
<text x="714.3" y="562" font-size="19.2" text-anchor="end">0.12</text>
<text x="987" y="1020.3" font-size="19.5" text-anchor="middle">Distance (bp)</text>
<text x="667.6" y="766.2" font-size="19.2" text-anchor="middle" transform="rotate(-90 667.6 766.2)">Density</text>
<path d="M722.5 879.6 L735.75 865.45 L749 839.27 L762.25 768.87 L775.5 712.27 L788.75 714.04 L802 682.56 L815.25 681.5 L828.5 800 L841.75 784.44 L855 797.53 L868.25 830.42 L881.5 891.62 L894.75 842.1 L908 878.53 L921.25 890.21 L934.5 912.5 L947.75 894.45 L961 908.96 L974.25 916.74 L987.5 922.75 L1000.75 936.55 L1014 947.16 L1027.25 956.71 L1040.5 952.82 L1053.75 943.98 L1067 949.64 L1080.25 952.82 L1093.5 957.07 L1106.75 951.05 L1120 960.25 L1133.25 950.35 L1146.5 967.68 L1159.75 972.63 L1173 963.43 L1186.25 970.16 L1199.5 972.63 L1212.75 968.39 L1226 966.62 L1239.25 969.1 L1252.5 979" fill="none" stroke="#2e3a97" stroke-width="2.15" stroke-linejoin="round" stroke-dasharray="7 4.8"/>
<path d="M722.5 795.05 L735.75 758.26 L749 714.04 L762.25 679.73 L775.5 640.82 L788.75 640.82 L802 781.96 L815.25 757.2 L828.5 800 L841.75 842.1 L855 848.11 L868.25 848.11 L881.5 907.19 L894.75 900.47 L908 923.11 L921.25 937.26 L934.5 928.41 L947.75 917.8 L961 941.5 L974.25 935.49 L987.5 929.12 L1000.75 966.62 L1014 940.44 L1027.25 961.67 L1040.5 965.2 L1053.75 955.3 L1067 955.3 L1080.25 952.82 L1093.5 956.01 L1106.75 955.3 L1120 952.82 L1133.25 970.16 L1146.5 962.73 L1159.75 954.59 L1173 949.64 L1186.25 957.07 L1199.5 950.35 L1212.75 965.2 L1226 961.67 L1239.25 961.67 L1252.5 979" fill="none" stroke="#4aae22" stroke-width="2.15" stroke-linejoin="round" stroke-dasharray="7 4.8"/>
<path d="M722.5 636.92 L735.75 781.96 L749 695.65 L762.25 653.9 L775.5 636.92 L788.75 690.34 L802 729.61 L815.25 818.4 L828.5 814.15 L841.75 876.06 L855 866.51 L868.25 895.16 L881.5 893.39 L894.75 926.64 L908 924.52 L921.25 936.2 L934.5 937.26 L947.75 940.44 L961 937.97 L974.25 960.25 L987.5 946.1 L1000.75 943.98 L1014 935.49 L1027.25 952.82 L1040.5 959.9 L1053.75 942.92 L1067 958.13 L1080.25 954.95 L1093.5 944.69 L1106.75 959.54 L1120 962.02 L1133.25 958.13 L1146.5 951.41 L1159.75 963.43 L1173 960.25 L1186.25 965.2 L1199.5 951.05 L1212.75 947.87 L1226 961.67 L1239.25 963.43 L1252.5 979" fill="none" stroke="#4aae22" stroke-width="2.15" stroke-linejoin="round"/>
<path d="M722.5 743.76 L735.75 814.86 L749 742.69 L762.25 647.54 L775.5 605.79 L788.75 595.18 L802 623.48 L815.25 721.82 L828.5 784.44 L841.75 829.01 L855 857.66 L868.25 888.09 L881.5 900.47 L894.75 907.19 L908 928.41 L921.25 925.58 L934.5 942.56 L947.75 953.53 L961 947.52 L974.25 950.35 L987.5 955.3 L1000.75 959.19 L1014 957.77 L1027.25 961.67 L1040.5 965.2 L1053.75 970.51 L1067 966.62 L1080.25 962.73 L1093.5 965.2 L1106.75 968.39 L1120 965.2 L1133.25 969.45 L1146.5 967.68 L1159.75 970.16 L1173 968.39 L1186.25 971.92 L1199.5 972.63 L1212.75 971.57 L1226 970.86 L1239.25 971.92 L1252.5 979" fill="none" stroke="#2e3a97" stroke-width="2.15" stroke-linejoin="round"/>
<line x1="991.25" y1="570" x2="991.25" y2="773" stroke="#bdbdbd" stroke-width="0.75" stroke-dasharray="1 2.1"/>
<line x1="1041.49" y1="570" x2="1041.49" y2="773" stroke="#bdbdbd" stroke-width="0.75" stroke-dasharray="1 2.1"/>
<line x1="1091.73" y1="570" x2="1091.73" y2="773" stroke="#bdbdbd" stroke-width="0.75" stroke-dasharray="1 2.1"/>
<line x1="1141.97" y1="570" x2="1141.97" y2="773" stroke="#bdbdbd" stroke-width="0.75" stroke-dasharray="1 2.1"/>
<line x1="1192.21" y1="570" x2="1192.21" y2="773" stroke="#bdbdbd" stroke-width="0.75" stroke-dasharray="1 2.1"/>
<line x1="1242.45" y1="570" x2="1242.45" y2="773" stroke="#bdbdbd" stroke-width="0.75" stroke-dasharray="1 2.1"/>
<line x1="987.5" y1="739.17" x2="1246.25" y2="739.17" stroke="#bdbdbd" stroke-width="0.75" stroke-dasharray="1 2.1"/>
<line x1="987.5" y1="705.34" x2="1246.25" y2="705.34" stroke="#bdbdbd" stroke-width="0.75" stroke-dasharray="1 2.1"/>
<line x1="987.5" y1="671.51" x2="1246.25" y2="671.51" stroke="#bdbdbd" stroke-width="0.75" stroke-dasharray="1 2.1"/>
<line x1="987.5" y1="637.68" x2="1246.25" y2="637.68" stroke="#bdbdbd" stroke-width="0.75" stroke-dasharray="1 2.1"/>
<line x1="987.5" y1="603.85" x2="1246.25" y2="603.85" stroke="#bdbdbd" stroke-width="0.75" stroke-dasharray="1 2.1"/>
<line x1="987.5" y1="570" x2="987.5" y2="773" stroke="#a9a9a9" stroke-width="1"/>
<line x1="987.5" y1="773.5" x2="1246.25" y2="773.5" stroke="#a9a9a9" stroke-width="1"/>
<line x1="987.5" y1="570.5" x2="1246.25" y2="570.5" stroke="#a9a9a9" stroke-width="1"/>
<line x1="1246.5" y1="570" x2="1246.5" y2="773" stroke="#a9a9a9" stroke-width="1"/>
<path d="M991.25 725.47 L1003.81 718.7 L1016.37 706.19 L1028.93 672.52 L1041.49 645.46 L1054.05 646.31 L1066.61 631.25 L1079.17 630.74 L1091.73 687.41 L1104.29 679.97 L1116.85 686.23 L1129.41 701.96 L1141.97 731.22 L1154.53 707.54 L1167.09 724.96 L1179.65 730.54 L1192.21 741.2 L1204.77 732.57 L1217.33 739.51 L1229.89 743.23 L1242.45 746.11 L1246.25 746.11" fill="none" stroke="#2e3a97" stroke-width="1.3" stroke-linejoin="round" stroke-dasharray="4.4 2.8"/>
<path d="M991.25 685.04 L1003.81 667.45 L1016.37 646.31 L1028.93 629.9 L1041.49 611.29 L1054.05 611.29 L1066.61 678.78 L1079.17 666.94 L1091.73 687.41 L1104.29 707.54 L1116.85 710.41 L1129.41 710.41 L1141.97 738.66 L1154.53 735.45 L1167.09 746.27 L1179.65 753.04 L1192.21 748.81 L1204.77 743.74 L1217.33 755.07 L1229.89 752.19 L1242.45 749.15 L1246.25 749.15" fill="none" stroke="#4aae22" stroke-width="1.3" stroke-linejoin="round" stroke-dasharray="4.4 2.8"/>
<path d="M991.25 609.43 L1003.81 678.78 L1016.37 637.51 L1028.93 617.55 L1041.49 609.43 L1054.05 634.97 L1066.61 653.75 L1079.17 696.21 L1091.73 694.18 L1104.29 723.78 L1116.85 719.21 L1129.41 732.91 L1141.97 732.07 L1154.53 747.97 L1167.09 746.95 L1179.65 752.53 L1192.21 753.04 L1204.77 754.56 L1217.33 753.38 L1229.89 764.04 L1242.45 757.27 L1246.25 757.27" fill="none" stroke="#4aae22" stroke-width="1.3" stroke-linejoin="round"/>
<path d="M991.25 660.52 L1003.81 694.51 L1016.37 660.01 L1028.93 614.51 L1041.49 594.55 L1054.05 589.47 L1066.61 603 L1079.17 650.03 L1091.73 679.97 L1104.29 701.28 L1116.85 714.98 L1129.41 729.53 L1141.97 735.45 L1154.53 738.66 L1167.09 748.81 L1179.65 747.46 L1192.21 755.58 L1204.77 760.82 L1217.33 757.95 L1229.89 759.3 L1242.45 761.67 L1246.25 761.67" fill="none" stroke="#2e3a97" stroke-width="1.3" stroke-linejoin="round"/>
<rect x="1183.5" y="560" width="68" height="43" fill="#ffffff"/>
<text transform="translate(1204.9 595.6) scale(1 1.07)" font-size="30" font-weight="bold">D</text>
<text x="991.25" y="788.2" font-size="12.6" text-anchor="middle">0</text>
<text x="1041.49" y="788.2" font-size="12.6" text-anchor="middle">200</text>
<text x="1091.73" y="788.2" font-size="12.6" text-anchor="middle">400</text>
<text x="1141.97" y="788.2" font-size="12.6" text-anchor="middle">600</text>
<text x="1192.21" y="788.2" font-size="12.6" text-anchor="middle">800</text>
<text x="1242.45" y="788.2" font-size="12.6" text-anchor="middle">1000</text>
<text x="985.6" y="778.2" font-size="12.7" text-anchor="end">0</text>
<text x="985.6" y="744.37" font-size="12.7" text-anchor="end">0.02</text>
<text x="985.6" y="710.54" font-size="12.7" text-anchor="end">0.04</text>
<text x="985.6" y="676.71" font-size="12.7" text-anchor="end">0.06</text>
<text x="985.6" y="642.88" font-size="12.7" text-anchor="end">0.08</text>
<text x="985.6" y="609.05" font-size="12.7" text-anchor="end">0.1</text>
<text x="985.6" y="575.22" font-size="12.7" text-anchor="end">0.12</text>
<text x="1116.7" y="799.3" font-size="12.5" text-anchor="middle">Distance (bp)</text>
<text x="956.5" y="673" font-size="12.4" text-anchor="middle" transform="rotate(-90 956.5 673)">Density</text>
</g>
</svg>
</body>
</html>
